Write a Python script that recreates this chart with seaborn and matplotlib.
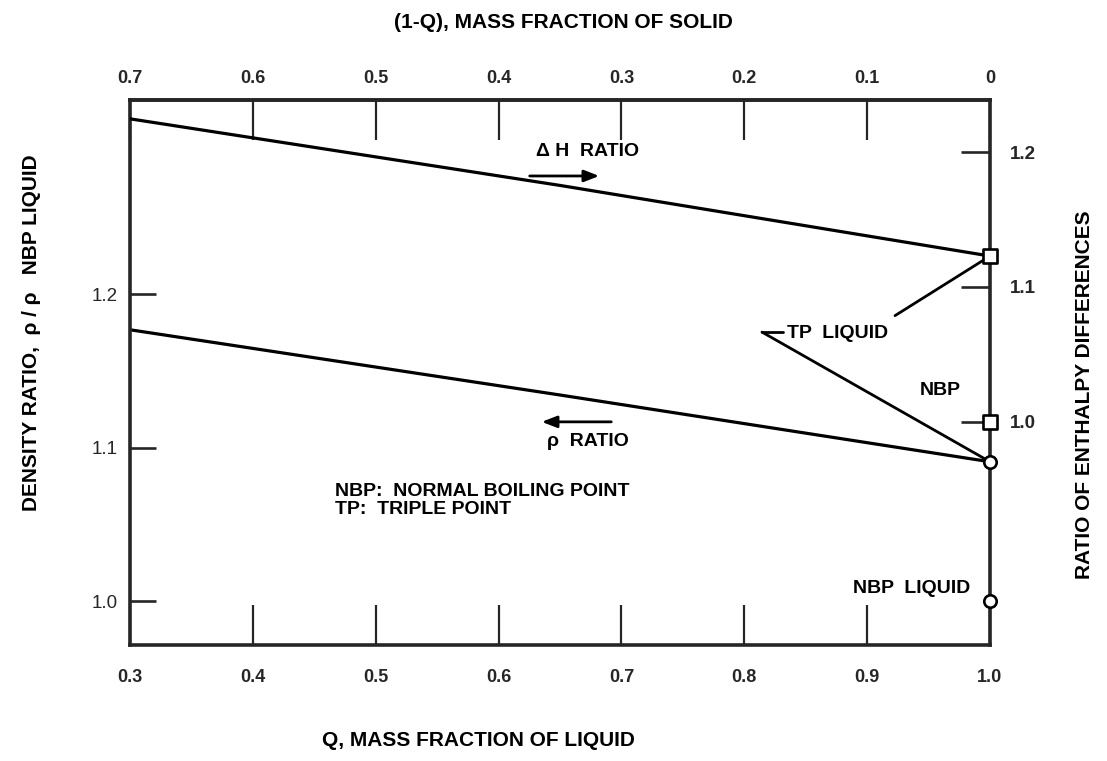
import pandas as pd
import seaborn as sns
import matplotlib.pyplot as plt

# values
q_liquid = [0.3, 0.65, 1.0]
rho_ratio = [1.177, 1.1345, 1.091]      # left axis, density ratio
dh_ratio = [1.225, 1.1755, 1.123]       # right axis, enthalpy ratio

# end points at Q = 1.0
q_end = 1.0
tp_liquid_rho = 1.091
nbp_liquid_rho = 1.0
tp_liquid_dh = 1.123
nbp_dh = 1.0

q_ticks = [0.3, 0.4, 0.5, 0.6, 0.7, 0.8, 0.9, 1.0]
q_labels = ['0.3', '0.4', '0.5', '0.6', '0.7', '0.8', '0.9', '1.0']
solid_ticks = [0.7, 0.6, 0.5, 0.4, 0.3, 0.2, 0.1, 0.0]
solid_labels = ['0.7', '0.6', '0.5', '0.4', '0.3', '0.2', '0.1', '0']
rho_ticks = [1.0, 1.1, 1.2]
dh_ticks = [1.0, 1.1, 1.2]

sns.set_style('ticks')
plt.rcParams['font.family'] = ['Liberation Sans', 'DejaVu Sans']

df = pd.DataFrame({'Q': q_liquid, 'rho': rho_ratio, 'dh': dh_ratio})

fig = plt.figure(figsize=(11.07, 7.61), dpi=100)
ax = fig.add_axes([0.1174, 0.1518, 0.7769, 0.7168])
ax2 = ax.twinx()

sns.lineplot(data=df, x='Q', y='rho', ax=ax, color='black', lw=2.3)
sns.lineplot(data=df, x='Q', y='dh', ax=ax2, color='black', lw=2.3)

ax.set_xlim(0.3, 1.0)
ax.set_ylim(0.9713, 1.3267)
ax2.set_ylim(0.8335, 1.239)
ax.set_xlabel('')
ax.set_ylabel('')
ax2.set_ylabel('')

for s in ax.spines.values():
    s.set_visible(True)
    s.set_linewidth(2.6)
for s in ax2.spines.values():
    s.set_visible(False)

# ticks
ax.set_xticks(q_ticks, labels=q_labels)
ax.set_yticks(rho_ticks, labels=['1.0', '1.1', '1.2'])
ax2.set_yticks(dh_ticks, labels=['1.0', '1.1', '1.2'])
ax.tick_params(axis='x', direction='in', length=29, width=1.6, pad=17,
               labelsize=13)
ax.tick_params(axis='y', direction='in', length=19, width=1.9, pad=9,
               labelsize=13.5)
ax2.tick_params(axis='y', direction='in', length=21, width=1.9, pad=14,
                labelsize=13.5)
for t in ax.get_xticklabels() + ax2.get_yticklabels():
    t.set_fontweight('bold')

top = ax.secondary_xaxis('top', functions=(lambda q: 1 - q, lambda s: 1 - s))
top.set_xticks(solid_ticks, labels=solid_labels)
top.tick_params(direction='in', length=29, width=1.6, pad=9, labelsize=13)
top.spines['top'].set_linewidth(2.6)
for t in top.get_xticklabels():
    t.set_fontweight('bold')

# end point markers
sns.scatterplot(x=[q_end, q_end], y=[tp_liquid_rho, nbp_liquid_rho], ax=ax,
                marker='o', s=80, facecolor='white', edgecolor='black',
                linewidth=1.9, zorder=6, clip_on=False)
sns.scatterplot(x=[q_end, q_end], y=[tp_liquid_dh, nbp_dh], ax=ax2,
                marker='s', s=95, facecolor='white', edgecolor='black',
                linewidth=1.9, zorder=6, clip_on=False)

# annotations
lab = dict(fontsize=14, fontweight='bold', color='black')
ax.text(0.6728, 1.2933, '\u0394 H  RATIO', ha='center', va='center', **lab)
ax.annotate('', xy=(0.6842, 1.2772), xytext=(0.6231, 1.2772),
            arrowprops=dict(arrowstyle='-|>,head_length=0.9,head_width=0.35',
                            color='black', lw=2.0))
ax.text(0.6728, 1.1044, '\u03c1  RATIO', ha='center', va='center', **lab)
ax.annotate('', xy=(0.6329, 1.117), xytext=(0.6940, 1.117),
            arrowprops=dict(arrowstyle='-|>,head_length=0.9,head_width=0.35',
                            color='black', lw=2.0))
ax.text(0.4669, 1.0713, 'NBP:  NORMAL BOILING POINT', ha='left', va='center', **lab)
ax.text(0.4669, 1.0602, 'TP:  TRIPLE POINT', ha='left', va='center', **lab)

ax.text(0.8348, 1.1746, 'TP  LIQUID', ha='left', va='center', **lab)
ax.plot([0.8315, 0.8144], [1.1755, 1.1755], color='black', lw=2.0)
ax.annotate('', xy=(q_end, tp_liquid_rho), xytext=(0.8144, 1.1755),
            arrowprops=dict(arrowstyle='-', color='black', lw=2.0,
                            shrinkA=0, shrinkB=4))
ax2.annotate('', xy=(q_end, tp_liquid_dh), xycoords='data',
             xytext=(0.9227, 1.1862), textcoords=ax.transData,
             arrowprops=dict(arrowstyle='-', color='black', lw=2.0,
                             shrinkA=0, shrinkB=4))
ax.text(0.9593, 1.1373, 'NBP', ha='center', va='center', **lab)
ax.text(0.9365, 1.0085, 'NBP  LIQUID', ha='center', va='center', **lab)

# axis titles
ttl = dict(fontsize=15, fontweight='bold', color='black')
fig.text(563 / 1107, 1 - 22 / 761, '(1-Q), MASS FRACTION OF SOLID',
         ha='center', va='center', **ttl)
fig.text(478 / 1107, 1 - 741 / 761, 'Q, MASS FRACTION OF LIQUID',
         ha='center', va='center', **ttl)
fig.text(32 / 1107, 1 - 333 / 761,
         'DENSITY RATIO,  \u03c1 / \u03c1   NBP LIQUID',
         ha='center', va='center', rotation=90, **ttl)
fig.text(1085 / 1107, 1 - 395 / 761, 'RATIO OF ENTHALPY DIFFERENCES',
         ha='center', va='center', rotation=90, **ttl)

plt.savefig('out.png', dpi=100)
